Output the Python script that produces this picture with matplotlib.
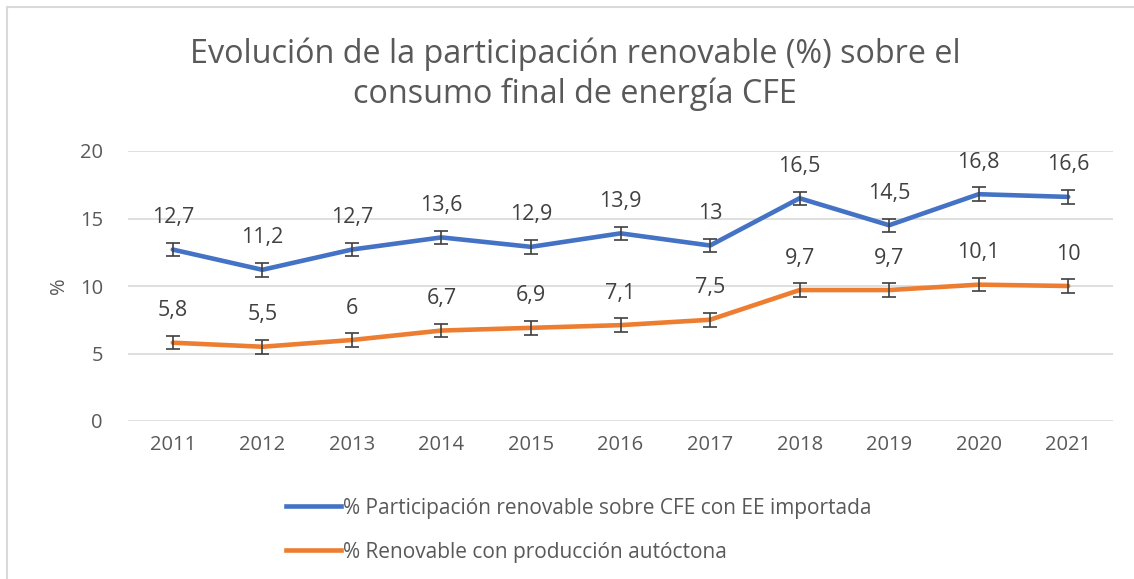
import matplotlib.pyplot as plt
from matplotlib.patches import Rectangle
from matplotlib.lines import Line2D

years = ['2011', '2012', '2013', '2014', '2015', '2016', '2017', '2018', '2019', '2020', '2021']
renov_importada = [12.7, 11.2, 12.7, 13.6, 12.9, 13.9, 13.0, 16.5, 14.5, 16.8, 16.6]
renov_autoctona = [5.8, 5.5, 6.0, 6.7, 6.9, 7.1, 7.5, 9.7, 9.7, 10.1, 10.0]
error = 0.5

label_a = '% Participación renovable sobre CFE con EE importada'
label_b = '% Renovable con producción autóctona'

plt.rcParams['font.family'] = ['Open Sans', 'DejaVu Sans']
gray = '#595959'
blue = '#4472C4'
orange = '#ED7D31'

fig = plt.figure(figsize=(11.34, 5.79), dpi=100)
ax = fig.add_axes([128/1134, 1 - 421/579, 985/1134, 270/579])

# chart border (light gray, as in the Excel export)
fig.patches.append(Rectangle((7/1134, -0.1), 1.2, 1 - 7/579 + 0.1, transform=fig.transFigure,
                             fill=False, edgecolor='#D9D9D9', linewidth=1.5))

x = list(range(len(years)))
for vals, col in [(renov_importada, blue), (renov_autoctona, orange)]:
    ax.plot(x, vals, color=col, linewidth=3.3, solid_capstyle='round', zorder=3)
    ax.errorbar(x, vals, yerr=error, fmt='none', ecolor='#404040', elinewidth=1.2,
                capsize=5, capthick=1.2, zorder=4)
    for xi, v in zip(x, vals):
        txt = ('%g' % v).replace('.', ',')
        ax.annotate(txt, (xi, v), xytext=(0, 23), textcoords='offset points',
                    ha='center', va='center', fontsize=15.5, color='#404040')

ax.set_xlim(-0.5, len(years) - 0.5)
ax.set_ylim(0, 20)
ax.set_yticks([0, 5, 10, 15, 20])
ax.set_xticks(x)
ax.set_xticklabels(years)
ax.grid(axis='y', color='#D9D9D9', linewidth=1.2)
ax.set_axisbelow(True)
for s in ax.spines.values():
    s.set_visible(False)
ax.tick_params(length=0, labelsize=14.5, labelcolor=gray, pad=10)
ax.tick_params(axis='y', pad=18)
ax.set_ylabel('%', fontsize=14.5, color=gray, labelpad=8)

fig.text(575/1134, 1 - 74/579, 'Evolución de la participación renovable (%) sobre el\nconsumo final de energía CFE',
         ha='center', va='center', fontsize=23.3, color=gray, linespacing=1.25)

handles = [Line2D([], [], color=blue, linewidth=3.3), Line2D([], [], color=orange, linewidth=3.3)]
fig.legend(handles, [label_a, label_b], loc='upper left', bbox_to_anchor=(267/1134, 1 - 479/579),
           frameon=False, fontsize=15, labelcolor=gray, handlelength=2.65, handletextpad=0.1,
           labelspacing=1.1)

fig.savefig('out.png', dpi=100)
